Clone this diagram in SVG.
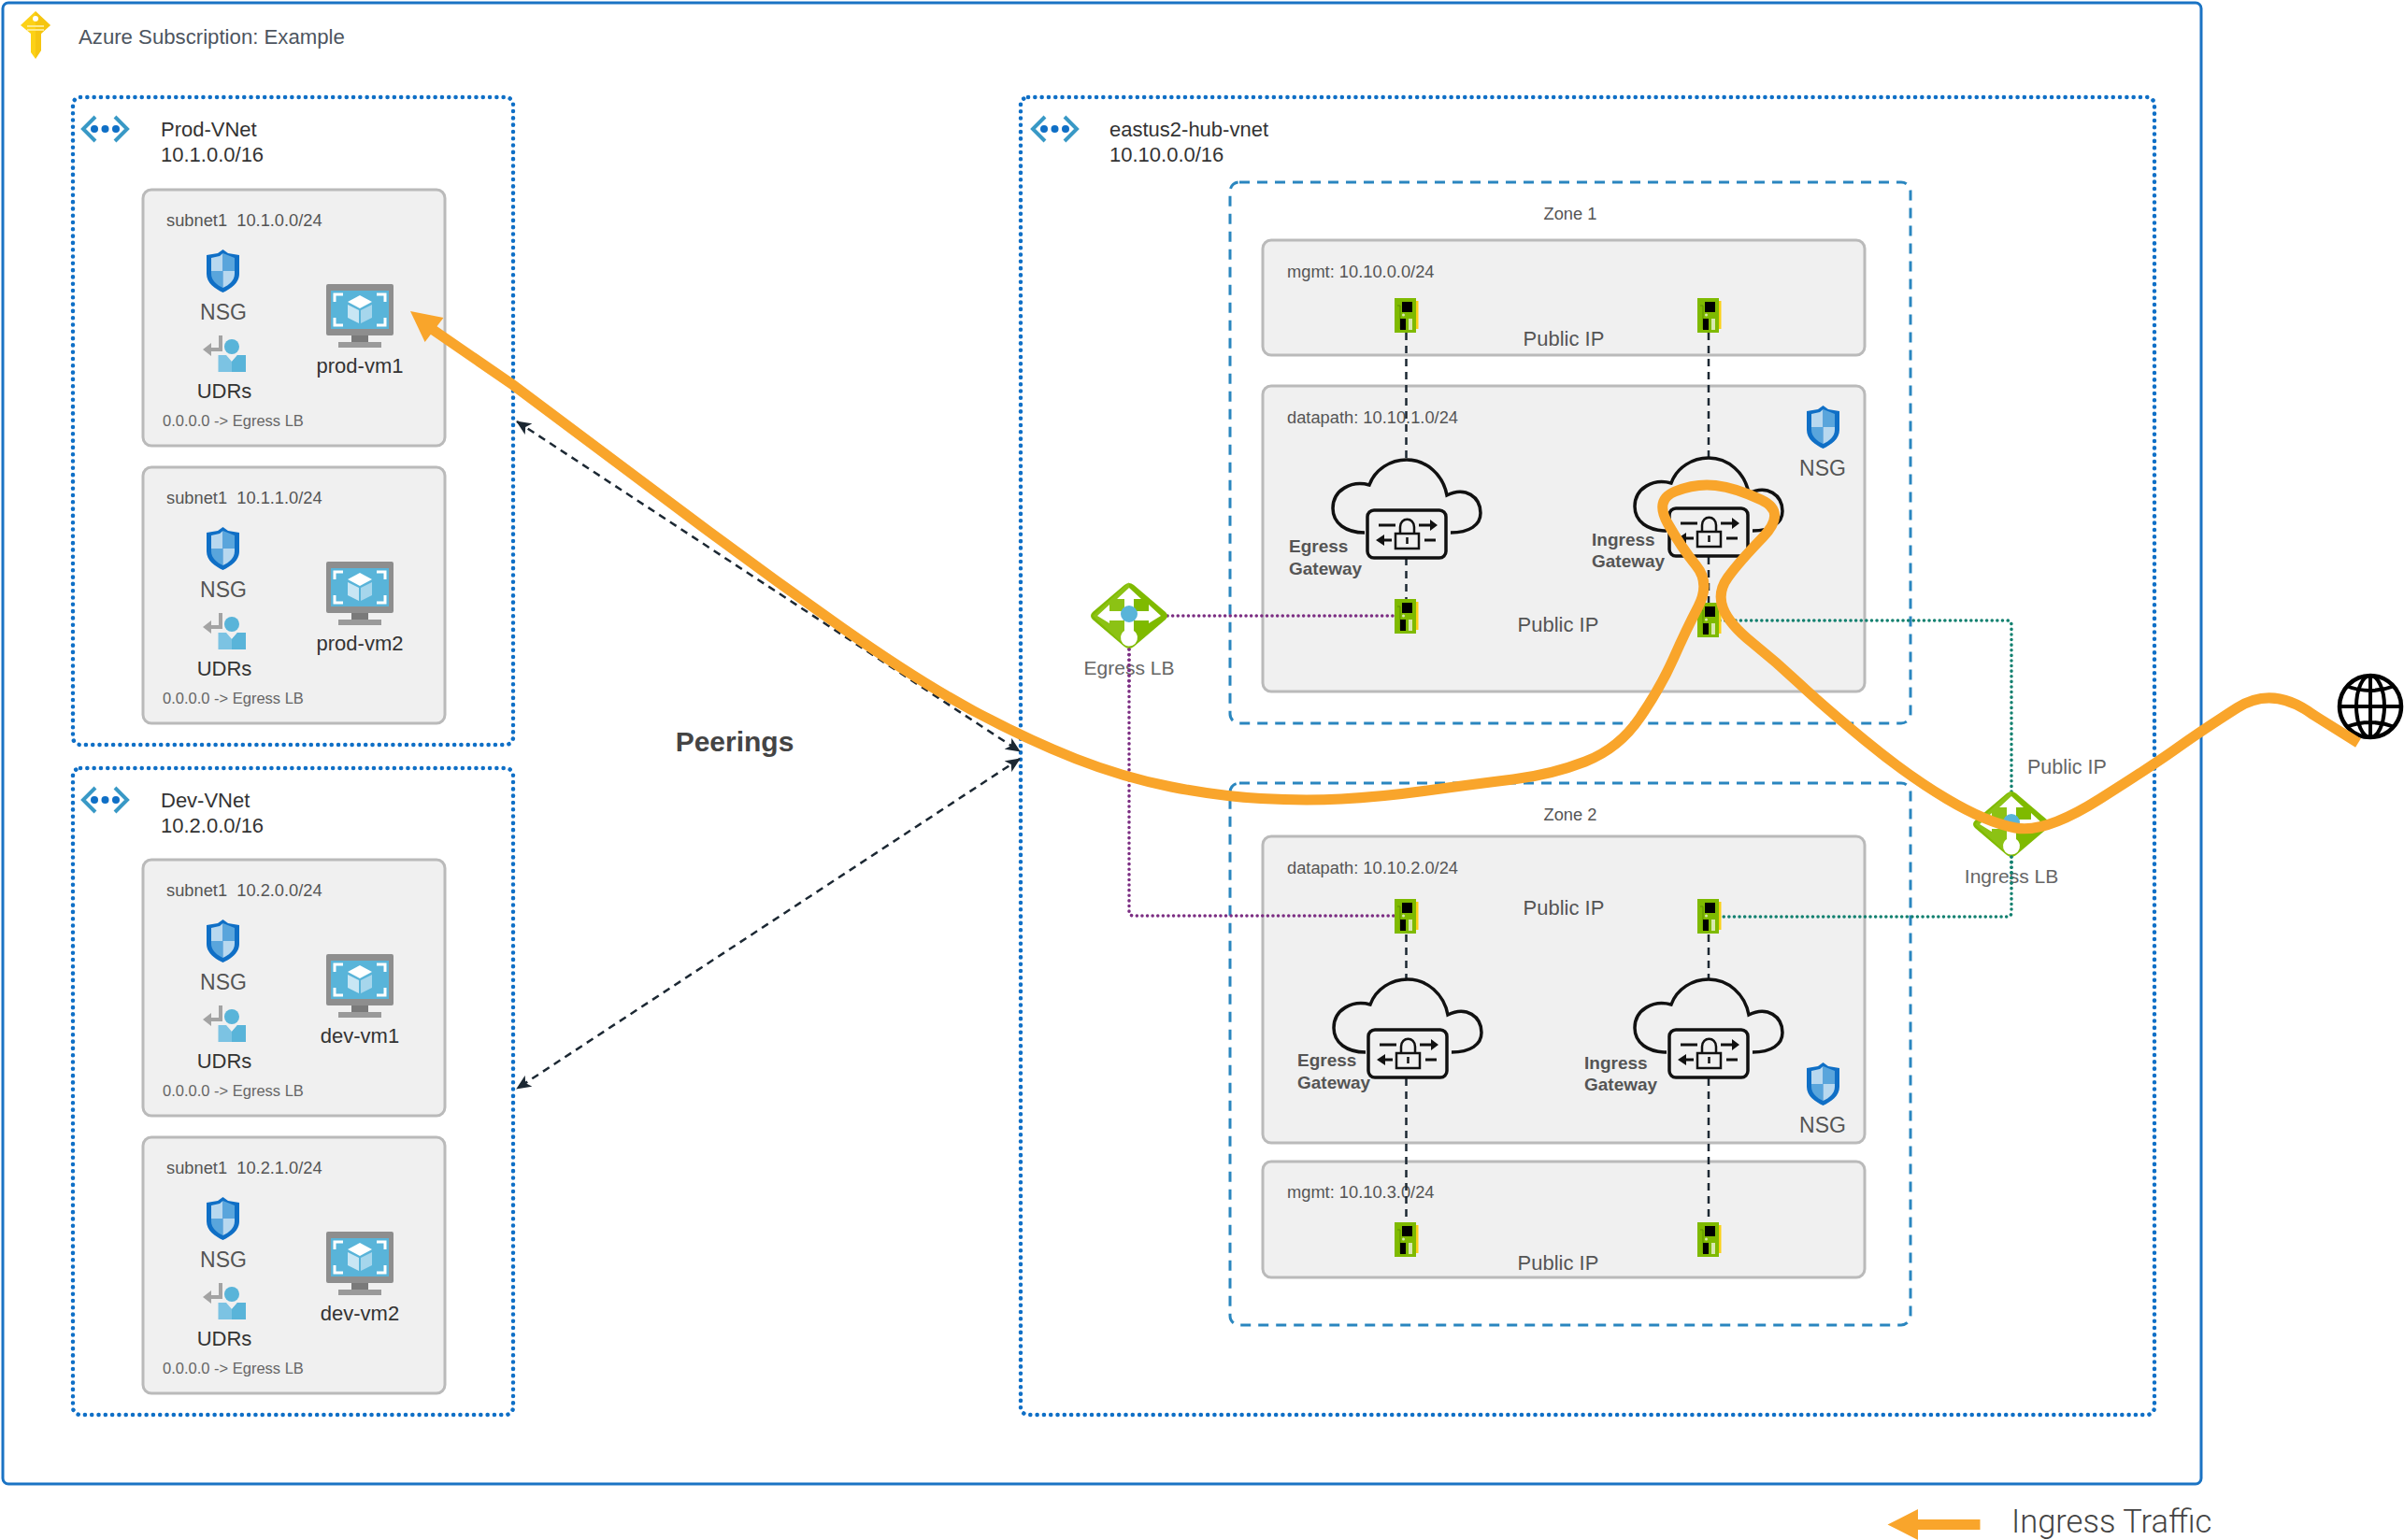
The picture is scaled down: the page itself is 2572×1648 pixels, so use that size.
<svg xmlns="http://www.w3.org/2000/svg" xmlns:xlink="http://www.w3.org/1999/xlink" width="2572" height="1648" viewBox="0 0 2572 1648">
<style>
text{font-family:"Liberation Sans",Arial,sans-serif;fill:#555;white-space:pre}
.t22{font-size:22px}.dk{fill:#333}.c{text-anchor:middle}
.nsg{font-size:23px}
.az{font-size:22.200px;fill:#4d5560}
.t18{font-size:18.300px}.t16{font-size:16.500px;fill:#666}
.gw{font-size:19px;font-weight:bold}
.sub{fill:#f0f0f0;stroke:#bababa;stroke-width:3}
.vnet{fill:none;stroke:#0f6fc6;stroke-width:4.500;stroke-linecap:round;stroke-dasharray:.1 7.2}
.zone{fill:none;stroke:#2a86bf;stroke-width:3;stroke-dasharray:11 8}
.dash{fill:none;stroke:#1c2833;stroke-width:2.500;stroke-dasharray:8 6}
.pur{fill:none;stroke:#7b2d82;stroke-width:3.500;stroke-linecap:round;stroke-dasharray:.1 5.5}
.grn{fill:none;stroke:#12806f;stroke-width:3.500;stroke-linecap:round;stroke-dasharray:.1 5.5}
</style>
<defs>
<marker id="dk" viewBox="0 0 16 14" refX="15" refY="7" markerWidth="16" markerHeight="14" markerUnits="userSpaceOnUse" orient="auto-start-reverse"><path d="M0 0L16 7L0 14L4 7Z" fill="#1c2833"/></marker>
<g id="shield"><path d="M17.500 0L23 4L35 6V26C35 36 26 42 17.500 46C9 42 0 36 0 26V6L12 4Z" fill="#0f6fc6"/><path d="M17.500 4V23H5V9L14 7Z" fill="#b8d8ef"/><path d="M17.500 4L30 9V23H17.500Z" fill="#59a5dc"/><path d="M5 23H17.500V41C11 38 5 33 5 26Z" fill="#59a5dc"/><path d="M17.500 23H30V26C30 33 24 38 17.500 41Z" fill="#b8d8ef"/></g>
<g id="udr"><path d="M19 0V15H6" fill="none" stroke="#a3a3a3" stroke-width="4"/><path d="M0 15L9 8V22Z" fill="#a3a3a3"/><circle cx="31" cy="12" r="8" fill="#59b4d9"/><path d="M16.500 21H25L31 28L37 21H46V39H16.500Z" fill="#7cc3e3"/><path d="M31 28L37 21H46V39H31Z" fill="#59b4d9"/></g>
<g id="vm"><rect width="72" height="55" rx="2" fill="#8e8e8e"/><rect x="5" y="7" width="62" height="41" fill="#59b4d9"/><path d="M9 19V11H18M54 11H63V19M63 36V44H54M18 44H9V36" fill="none" stroke="#fff" stroke-width="3"/><path d="M36 12L49 19L36 26L23 19Z" fill="#fff"/><path d="M23 22L35 28V42L23 36Z" fill="#c8e6f4"/><path d="M37 28L49 22V36L37 42Z" fill="#a6d6ec"/><rect x="27" y="55" width="18" height="7" fill="#7a7a7a"/><rect x="13" y="62" width="46" height="6" fill="#9a9a9a"/></g>
<g id="nic"><rect x="22" y="3" width="3.500" height="30" fill="#fcd116"/><rect width="23" height="37" fill="#7fba00"/><path d="M3 8H6V33" fill="none" stroke="#5f8f00" stroke-width="1"/><rect x="8" y="4" width="11" height="11" fill="#000"/><rect x="6" y="22" width="6" height="12" fill="#000"/><rect x="15" y="22" width="4" height="12" fill="#d8e8b0"/><circle cx="9.500" cy="18" r="1.500" fill="#d8e8b0"/></g>
<g id="gateway"><path d="M34 78C14 78 0 68 0 52C0 32 20 22 39 27C45 10 62 0 79 0C100 0 118 16 122 38C142 28 158 40 158 57C158 70 146 78 126 78" fill="none" stroke="#111" stroke-width="3.500"/><rect x="37" y="54" width="84" height="51" rx="7" fill="#f0f0f0" stroke="#111" stroke-width="3.500"/><path d="M49 70H67M92 70H106M63 86H49M98 86H110" fill="none" stroke="#111" stroke-width="3"/><path d="M112 70L104 64V76ZM46 86L55 80V92Z" fill="#111"/><rect x="67" y="79" width="25" height="16" fill="none" stroke="#111" stroke-width="2.500"/><path d="M72 79V72C72 61 87 61 87 72V79" fill="none" stroke="#111" stroke-width="2.500"/><path d="M79.500 83V90" stroke="#111" stroke-width="2.500"/></g>
<g id="lb"><path d="M36 3Q41-1 46 3L80 32Q84 36 80 40L46 69Q41 73 36 69L2 40Q-2 36 2 32Z" fill="#7fba00"/><path d="M41 0L2 36L41 72V0Z" fill="#95c821" opacity=".6"/><path d="M41 6L54 18H46V31H62V24L75 36L62 44V41H46V52A9 9 0 1 1 36 52V41H20V44L7 36L20 24V31H36V18H28Z" fill="#fff"/><circle cx="41" cy="34" r="9" fill="#59b4d9"/></g>
<g id="vneticon"><path d="M16 2L3 15L16 28M37 2L50 15L37 28" fill="none" stroke="#3999c6" stroke-width="4"/><circle cx="15" cy="15" r="4" fill="#0f6fc6"/><circle cx="26.500" cy="15" r="4" fill="#0f6fc6"/><circle cx="38" cy="15" r="4" fill="#0f6fc6"/></g>
</defs>
<rect width="2572" height="1648" fill="#fff"/>
<g id="subscription"><rect x="3" y="3" width="2352" height="1585" rx="6" fill="none" stroke="#1a73c4" stroke-width="3"/>
<path d="M38 12L54 27L44 36V54L38 63L33 56V36L22 27Z" fill="#fcd116"/><path d="M38 12L54 27L44 36V54L38 63Z" fill="#eab308" opacity=".4"/><circle cx="38" cy="20" r="3" fill="#fff"/><path d="M29 28H47M29 32H47" stroke="#fde98a" stroke-width="2"/>
<text x="84" y="47" class="az">Azure Subscription: Example</text></g>
<g id="prod-vnet"><rect x="78" y="104" width="471" height="693" rx="8" class="vnet"/><use href="#vneticon" x="86" y="123"/><text x="172" y="146" class="t22 dk">Prod-VNet</text><text x="172" y="173" class="t22 dk">10.1.0.0/16</text></g>
<g id="dev-vnet"><rect x="78" y="822" width="471" height="692" rx="8" class="vnet"/><use href="#vneticon" x="86" y="841"/><text x="172" y="864" class="t22 dk">Dev-VNet</text><text x="172" y="891" class="t22 dk">10.2.0.0/16</text></g>
<g id="hub-vnet"><rect x="1092" y="104" width="1213" height="1410" rx="8" class="vnet"/><use href="#vneticon" x="1102" y="123"/><text x="1187" y="146" class="t22 dk">eastus2-hub-vnet</text><text x="1187" y="173" class="t22 dk">10.10.0.0/16</text></g>

<g id="subnet-prod1"><rect x="153" y="203" width="323" height="274" rx="9" class="sub"/><text x="178" y="242" class="t18">subnet1  10.1.0.0/24</text><use href="#shield" x="221" y="267"/><text x="239" y="342" class="nsg c">NSG</text><use href="#udr" x="217" y="359"/><text x="240" y="426" class="t22 c dk">UDRs</text><use href="#vm" x="349" y="304"/><text x="385" y="399" class="t22 c dk">prod-vm1</text><text x="174" y="456" class="t16">0.0.0.0 -&gt; Egress LB</text></g>
<g id="subnet-prod2" transform="translate(0 297)"><rect x="153" y="203" width="323" height="274" rx="9" class="sub"/><text x="178" y="242" class="t18">subnet1  10.1.1.0/24</text><use href="#shield" x="221" y="267"/><text x="239" y="342" class="nsg c">NSG</text><use href="#udr" x="217" y="359"/><text x="240" y="426" class="t22 c dk">UDRs</text><use href="#vm" x="349" y="304"/><text x="385" y="399" class="t22 c dk">prod-vm2</text><text x="174" y="456" class="t16">0.0.0.0 -&gt; Egress LB</text></g>
<g id="subnet-dev1" transform="translate(0 717)"><rect x="153" y="203" width="323" height="274" rx="9" class="sub"/><text x="178" y="242" class="t18">subnet1  10.2.0.0/24</text><use href="#shield" x="221" y="267"/><text x="239" y="342" class="nsg c">NSG</text><use href="#udr" x="217" y="359"/><text x="240" y="426" class="t22 c dk">UDRs</text><use href="#vm" x="349" y="304"/><text x="385" y="399" class="t22 c dk">dev-vm1</text><text x="174" y="456" class="t16">0.0.0.0 -&gt; Egress LB</text></g>
<g id="subnet-dev2" transform="translate(0 1014)"><rect x="153" y="203" width="323" height="274" rx="9" class="sub"/><text x="178" y="242" class="t18">subnet1  10.2.1.0/24</text><use href="#shield" x="221" y="267"/><text x="239" y="342" class="nsg c">NSG</text><use href="#udr" x="217" y="359"/><text x="240" y="426" class="t22 c dk">UDRs</text><use href="#vm" x="349" y="304"/><text x="385" y="399" class="t22 c dk">dev-vm2</text><text x="174" y="456" class="t16">0.0.0.0 -&gt; Egress LB</text></g>

<g id="zone1"><rect x="1316" y="195" width="728" height="579" rx="10" class="zone"/><text x="1680" y="235" class="t18 c">Zone 1</text></g>
<g id="zone2"><rect x="1316" y="838" width="728" height="580" rx="10" class="zone"/><text x="1680" y="878" class="t18 c">Zone 2</text></g>
<g id="mgmt1"><rect x="1351" y="257" width="644" height="123" rx="9" class="sub"/><text x="1377" y="297" class="t18">mgmt: 10.10.0.0/24</text><text x="1673" y="370" class="t22 c">Public IP</text></g>
<g id="datapath1"><rect x="1351" y="413" width="644" height="327" rx="9" class="sub"/><text x="1377" y="453" class="t18">datapath: 10.10.1.0/24</text><text x="1667" y="676" class="t22 c">Public IP</text><use href="#shield" x="1933" y="434"/><text x="1950" y="509" class="nsg c">NSG</text></g>
<g id="datapath2"><rect x="1351" y="895" width="644" height="328" rx="9" class="sub"/><text x="1377" y="935" class="t18">datapath: 10.10.2.0/24</text><text x="1673" y="979" class="t22 c">Public IP</text><use href="#shield" x="1933" y="1137"/><text x="1950" y="1212" class="nsg c">NSG</text></g>
<g id="mgmt2"><rect x="1351" y="1243" width="644" height="124" rx="9" class="sub"/><text x="1377" y="1282" class="t18">mgmt: 10.10.3.0/24</text><text x="1667" y="1359" class="t22 c">Public IP</text></g>

<g id="connectors">
<path class="dash" d="M1504.500 356V492M1504.500 597V642M1828 356V489M1828 596V647M1504.500 1000V1048M1504.500 1154V1310M1828 1000V1048M1828 1154V1310"/>
<path class="dash" d="M553 451L1091 804" marker-start="url(#dk)" marker-end="url(#dk)"/>
<path class="dash" d="M1091 812L553 1165" marker-start="url(#dk)" marker-end="url(#dk)"/>
<path class="pur" d="M1249 659H1492M1208 695V975Q1208 980 1213 980H1492"/>
<path class="grn" d="M1840 664H2147Q2152 664 2152 669V847M2152 917V976Q2152 981 2147 981H1840"/>
</g>

<g id="gw-egress1"><use href="#gateway" transform="translate(1426 492)"/><text x="1379" y="591" class="gw">Egress</text><text x="1379" y="615" class="gw">Gateway</text></g>
<g id="gw-ingress1"><use href="#gateway" transform="translate(1749 490)"/><text x="1703" y="584" class="gw">Ingress</text><text x="1703" y="607" class="gw">Gateway</text></g>
<g id="gw-egress2"><use href="#gateway" transform="translate(1427 1048)"/><text x="1388" y="1141" class="gw">Egress</text><text x="1388" y="1165" class="gw">Gateway</text></g>
<g id="gw-ingress2"><use href="#gateway" transform="translate(1749 1048)"/><text x="1695" y="1144" class="gw">Ingress</text><text x="1695" y="1167" class="gw">Gateway</text></g>

<g id="nic1"><use href="#nic" x="1492" y="319"/></g>
<g id="nic2"><use href="#nic" x="1816" y="319"/></g>
<g id="nic3"><use href="#nic" x="1492" y="641"/></g>
<g id="nic4"><use href="#nic" x="1816" y="645"/></g>
<g id="nic5"><use href="#nic" x="1492" y="962"/></g>
<g id="nic6"><use href="#nic" x="1816" y="962"/></g>
<g id="nic7"><use href="#nic" x="1492" y="1308"/></g>
<g id="nic8"><use href="#nic" x="1816" y="1308"/></g>

<g id="egress-lb"><use href="#lb" transform="translate(1167 623)"/><text x="1208" y="722" font-size="21" class="c" style="fill:#666">Egress LB</text></g>
<g id="ingress-lb"><use href="#lb" transform="translate(2111 846)"/><text x="2152" y="945" font-size="21" class="c" style="fill:#666">Ingress LB</text><text x="2169" y="828" font-size="21.500" style="fill:#666">Public IP</text></g>
<path class="pur" d="M1208 695V735"/>
<path class="grn" d="M2152 917V950"/>

<g id="internet"><circle cx="2536" cy="756" r="33" fill="#fff" stroke="#000" stroke-width="4.500"/><ellipse cx="2536" cy="756" rx="15" ry="33" fill="none" stroke="#000" stroke-width="4"/><path d="M2536 723V789M2503 756H2569M2510 734Q2536 744 2562 734M2510 778Q2536 768 2562 778" fill="none" stroke="#000" stroke-width="4"/></g>

<g id="ingress-traffic">
<path d="M459 350L549 412Q656 492 738 553.500Q820 615 902 672.500Q984 730 1042 761Q1100 792 1151 812Q1202 832 1253 842Q1304 852 1349 854.500Q1394 857 1435 855Q1476 853 1527 846Q1578 839 1619 834Q1660 829 1696 815Q1732 801 1754.500 768Q1777 735 1790.500 704.500Q1804 674 1817 649Q1830 624 1814.500 605Q1799 586 1784.500 560.500Q1770 535 1792 526Q1814 517 1835.500 519.500Q1857 522 1884.500 535Q1912 548 1886 575Q1860 602 1848.500 618Q1837 634 1843.500 651Q1850 668 1875 688Q1900 708 1925 731.500Q1950 755 1995.500 792.500Q2041 830 2083 855Q2125 880 2156.500 886Q2188 892 2246.500 855Q2305 818 2330 800Q2355 782 2393.500 757.500Q2432 733 2475 765L2523 795" fill="none" stroke="#f9a52b" stroke-width="11"/>
<path d="M439 333L474.500 340L454.600 366Z" fill="#f9a52b"/>
</g>

<text id="peerings" x="786" y="804" font-size="30" font-weight="bold" class="c" style="fill:#444">Peerings</text>
<g id="legend"><path d="M2019.500 1631.500L2052 1615V1626H2118.500V1637H2052V1648Z" fill="#f9a52b"/><text x="2152" y="1640" font-size="34.500" font-weight="300" style="font-family:Roboto,'Liberation Sans',sans-serif;fill:#444">Ingress Traffic</text></g>
</svg>
